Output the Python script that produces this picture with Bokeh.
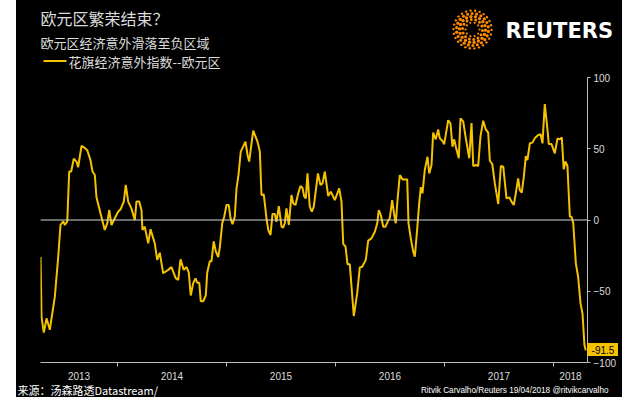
import numpy as np
from bokeh.plotting import figure
from bokeh.models import FixedTicker, Span, Range1d, CustomJSTickFormatter
from bokeh.embed import file_html
from bokeh.resources import INLINE
from bokeh.core.properties import value

# ---------------- texts ----------------
TITLE = "欧元区繁荣结束？"
SUBTITLE = "欧元区经济意外滑落至负区域"
SERIES_NAME = "花旗经济意外指数--欧元区"
SOURCE = "来源：汤森路透Datastream/"
CREDIT = "Ritvik Carvalho/Reuters 19/04/2018 @ritvikcarvalho"
BRAND = "REUTERS"
YEAR_BOUNDS = [2014, 2015, 2016, 2017, 2018]
Y_TICKS = [-100, -50, 0, 50, 100]

# ---------------- data (decimal year, index value) ----------------
dates = [
    2013.294, 2013.303, 2013.324, 2013.349, 2013.379, 2013.425, 2013.456, 2013.477, 2013.502, 2013.517,
    2013.539, 2013.557, 2013.575, 2013.599, 2013.624, 2013.639, 2013.670, 2013.700, 2013.722, 2013.752,
    2013.771, 2013.792, 2013.807, 2013.844, 2013.883, 2013.906, 2013.924, 2013.945, 2013.975, 2014.006,
    2014.028, 2014.058, 2014.076, 2014.098, 2014.128, 2014.159, 2014.174, 2014.199, 2014.220, 2014.229,
    2014.250, 2014.282, 2014.303, 2014.342, 2014.364, 2014.388, 2014.419, 2014.465, 2014.495, 2014.535,
    2014.557, 2014.578, 2014.608, 2014.633, 2014.654, 2014.672, 2014.694, 2014.716, 2014.731, 2014.750,
    2014.764, 2014.786, 2014.810, 2014.823, 2014.847, 2014.862, 2014.883, 2014.902, 2014.924, 2014.939,
    2014.961, 2014.979, 2015.000, 2015.021, 2015.037, 2015.055, 2015.076, 2015.092, 2015.110, 2015.131,
    2015.174, 2015.193, 2015.208, 2015.245, 2015.284, 2015.306, 2015.321, 2015.342, 2015.367, 2015.383,
    2015.404, 2015.422, 2015.443, 2015.459, 2015.480, 2015.505, 2015.520, 2015.535, 2015.550, 2015.572,
    2015.596, 2015.612, 2015.633, 2015.658, 2015.679, 2015.697, 2015.713, 2015.728, 2015.743, 2015.764,
    2015.783, 2015.801, 2015.839, 2015.862, 2015.881, 2015.902, 2015.933, 2015.957, 2015.994, 2016.034,
    2016.055, 2016.071, 2016.092, 2016.110, 2016.131, 2016.168, 2016.199, 2016.223, 2016.245, 2016.278,
    2016.300, 2016.330, 2016.361, 2016.383, 2016.397, 2016.416, 2016.438, 2016.459, 2016.483, 2016.498,
    2016.520, 2016.539, 2016.553, 2016.569, 2016.590, 2016.615, 2016.639, 2016.658, 2016.670, 2016.691,
    2016.713, 2016.728, 2016.750, 2016.768, 2016.783, 2016.798, 2016.819, 2016.844, 2016.860, 2016.881,
    2016.896, 2016.920, 2016.942, 2016.957, 2016.982, 2016.997, 2017.034, 2017.055, 2017.073, 2017.089,
    2017.104, 2017.131, 2017.147, 2017.172, 2017.193, 2017.227, 2017.248, 2017.264, 2017.287, 2017.309,
    2017.330, 2017.355, 2017.379, 2017.401, 2017.416, 2017.438, 2017.462, 2017.493, 2017.517, 2017.539,
    2017.569, 2017.594, 2017.615, 2017.636, 2017.654, 2017.676, 2017.691, 2017.709, 2017.728, 2017.746,
    2017.761, 2017.783, 2017.807, 2017.828, 2017.860, 2017.881, 2017.899, 2017.920, 2017.942, 2017.957,
    2017.982, 2018.012, 2018.037, 2018.058, 2018.076, 2018.094, 2018.110, 2018.128, 2018.150, 2018.165,
    2018.181, 2018.205, 2018.226, 2018.248, 2018.266, 2018.284, 2018.296,
]
esi = [
    -26, -68, -79, -69, -77, -54, -26, -3.5, -1, -3.5,
    -1, 34, 34, 43, 41, 37, 52, 50.5, 49, 42,
    34, 31.6, 16, 4.7, -7, -2.3, 7, -3.5, 1.2, 5.8,
    7.5, 12.9, 24.6, 12.9, 8, 0, 12.9, 12.9, 7, -7,
    -4.7, -16.4, -6.5, -16.4, -28, -23, -37.4, -35, -33, -41,
    -42, -27.6, -35, -33, -37, -53, -44.5, -41, -44, -44,
    -57, -57, -53, -37, -29, -29, -15, -22, -26, -19,
    -2.3, 2.3, 10.5, 10.5, 1.2, -3, 2.3, 22.2, 31.6, 48,
    55, 45.6, 41, 62.7, 55, 48, 17.5, 18, 1.2, -7,
    -10.5, 4.2, 4.2, -1.2, 9.8, -4.7, -5.4, -2.3, 8.2, -3.5,
    17.5, 11.7, 10.5, 18.7, 23.9, 22.7, 16.4, 15.2, 32.7, 9.4,
    5.8, 9.4, 32.7, 24.6, 25.7, 33.9, 16.8, 19.9, 14, 22.2,
    12.9, -16.8, -18.7, -31, -31, -67.4, -51.5, -33.3, -32.8, -28,
    -14.5, -12.9, -8.2, -2.3, 7, 3.5, -4.7, -4.7, -0.5, 1.2,
    14, 3.5, -2.3, 14, 31.6, 28.5, 28.5, 28.5, -2.3, -12.9,
    -22.2, -25.7, -5.8, 11.7, 23, 18.7, 35, 44.4, 32.7, 38.6,
    61.3, 56.6, 63.6, 57.3, 55.5, 53.2, 70, 67.7, 51.4, 56.6,
    51.4, 43.3, 71.4, 69, 58.5, 43.3, 68, 37.9, 38.6, 37.9,
    58.5, 69.7, 63.6, 61.3, 41.6, 39.3, 25.7, 11.2, 37.9, 37.4,
    15.2, 15.9, 12.9, 10.5, 18.7, 29.2, 21, 19.2, 30.4, 44.9,
    42.1, 53.8, 54.3, 57.3, 59.6, 60.3, 53.8, 81.4, 65.5, 53.3,
    53.3, 46.8, 57.3, 56.6, 58, 35.6, 41, 37.9, 2.3, 2.3,
    -1.9, -30.4, -39.8, -58.5, -65.5, -87.7, -91.5,
]

# ---------------- style / layout ----------------
BG = "black"
FG = "#dcdcdc"
AXIS = "#bdbdbd"
GOLD = "#f5c200"
ORANGE = "#ff8a00"
CJK = "Noto Sans CJK SC"
LAT = "Liberation Sans"
LEFT = 16                  # white strip left of the black panel
W = 606                    # black panel width
H_HEAD, H_MAIN, H_FOOT = 70, 313, 14
MB_L, MB_R, MB_T, MB_B = 24, 35, 7, 21
BLACK_BOX = {"background-color": "black"}


def band(h, y0):
    """Header/footer strip; its ranges are page pixel coordinates."""
    f = figure(width=W, height=h, x_range=Range1d(LEFT, LEFT + W), y_range=Range1d(y0 + h, y0),
               output_backend="svg", toolbar_location=None, min_border=0,
               x_axis_location=None, y_axis_location=None,
               background_fill_color=BG, border_fill_color=BG, outline_line_color=None)
    f.xgrid.visible = False
    f.ygrid.visible = False
    f.margin = (0, 0, 0, LEFT)
    f.styles = dict(BLACK_BOX)
    return f

# ---------------- header ----------------
head = band(H_HEAD, 0)
head.text(x=[40], y=[17], text=[TITLE], text_font=value(CJK), text_font_size="16px",
          text_color=FG, text_baseline="middle")
head.text(x=[40], y=[42], text=[SUBTITLE], text_font=value(CJK), text_font_size="13px",
          text_color=FG, text_baseline="middle")
head.line(x=[43, 66], y=[60.5, 60.5], line_color=GOLD, line_width=2)
head.text(x=[68], y=[60.5], text=[SERIES_NAME], text_font=value(CJK), text_font_size="13px",
          text_color=FG, text_baseline="middle")
# logo: dotted ring
cx, cy = 472, 29
lx, ly, ls = [], [], []
for r, n, s, off in [(7.0, 10, 2.2, 0.0), (10.0, 14, 3.0, 0.1), (13.0, 18, 3.4, 0.05),
                     (16.0, 22, 3.2, 0.12), (19.0, 26, 2.4, 0.02)]:
    a = np.linspace(0, 2 * np.pi, n, endpoint=False) + off
    lx += list(cx + r * np.cos(a))
    ly += list(cy + r * np.sin(a))
    ls += [s] * n
head.scatter(x=lx, y=ly, size=ls, color=ORANGE, line_color=None)
head.text(x=[505], y=[30], text=[BRAND], text_font=value("DejaVu Sans"), text_font_style="bold",
          text_font_size="21px", text_color="white", text_baseline="middle")

# ---------------- main chart ----------------
x_start, x_end = 2013.2936, 2018.312
y_lo, y_hi = -100, 100
p = figure(width=W, height=H_MAIN, x_range=Range1d(x_start, x_end), y_range=Range1d(y_lo, y_hi),
           y_axis_location="right", output_backend="svg", toolbar_location=None,
           min_border_left=MB_L, min_border_right=MB_R, min_border_top=MB_T, min_border_bottom=MB_B,
           background_fill_color=BG, border_fill_color=BG, outline_line_color=None)
p.margin = (0, 0, 0, LEFT)
p.styles = dict(BLACK_BOX)
p.xgrid.visible = False
p.ygrid.visible = False

p.add_layout(Span(location=0, dimension="width", line_color="#d8d8d8", line_width=1.2))
p.line(dates, esi, line_color=GOLD, line_width=2)

mids = [(x_start + YEAR_BOUNDS[0]) / 2] + [y + 0.5 for y in YEAR_BOUNDS[:-1]] + [(YEAR_BOUNDS[-1] + x_end) / 2]
xa = p.xaxis[0]
xa.ticker = FixedTicker(ticks=mids, minor_ticks=YEAR_BOUNDS)
xa.formatter = CustomJSTickFormatter(code="return String(Math.floor(tick));")
xa.axis_line_color = AXIS
xa.major_tick_out = 0
xa.major_tick_in = 0
xa.minor_tick_out = 4
xa.minor_tick_in = 0
xa.minor_tick_line_color = AXIS
xa.major_label_standoff = 5
xa.major_label_text_color = FG
xa.major_label_text_font = LAT
xa.major_label_text_font_size = "10px"

ya = p.yaxis[0]
ya.ticker = FixedTicker(ticks=Y_TICKS)
ya.axis_line_color = AXIS
ya.major_tick_line_color = AXIS
ya.major_tick_out = 3
ya.major_tick_in = 0
ya.minor_tick_out = 0
ya.minor_tick_in = 0
ya.major_label_standoff = 3
ya.major_label_text_color = FG
ya.major_label_text_font = LAT
ya.major_label_text_font_size = "10px"

# ---------------- last-value tag (overlay at the end of the line, right of the axis) ----------------
TAG_W, TAG_H = 31, 13
frame_top = H_HEAD + MB_T
frame_h = H_MAIN - MB_T - MB_B
tag_top = frame_top + (y_hi - esi[-1]) / (y_hi - y_lo) * frame_h - TAG_H / 2
tag = figure(width=TAG_W, height=TAG_H, x_range=Range1d(0, TAG_W), y_range=Range1d(0, TAG_H),
             output_backend="svg", toolbar_location=None, min_border=0,
             x_axis_location=None, y_axis_location=None,
             background_fill_color=GOLD, border_fill_color=GOLD, outline_line_color=None)
tag.xgrid.visible = False
tag.ygrid.visible = False
tag.text(x=[TAG_W / 2], y=[TAG_H / 2], text=[f"{esi[-1]}"], text_font=value(LAT),
         text_font_size="10px", text_color="black", text_align="center", text_baseline="middle")
tag.styles = {"position": "absolute", "left": f"{LEFT + W - MB_R}px", "top": f"{tag_top:.1f}px",
              "background-color": GOLD}

# ---------------- footer ----------------
foot = band(H_FOOT, H_HEAD + H_MAIN)
foot.text(x=[17], y=[389.5], text=[SOURCE], text_font=value(CJK), text_font_size="11px",
          text_color="white", text_baseline="middle")
foot.text(x=[608], y=[389.5], text=[CREDIT], text_font=value(LAT), text_font_size="8.2px",
          text_color="white", text_baseline="middle", text_align="right")

open("out.html", "w").write(file_html([head, p, foot, tag], INLINE))
